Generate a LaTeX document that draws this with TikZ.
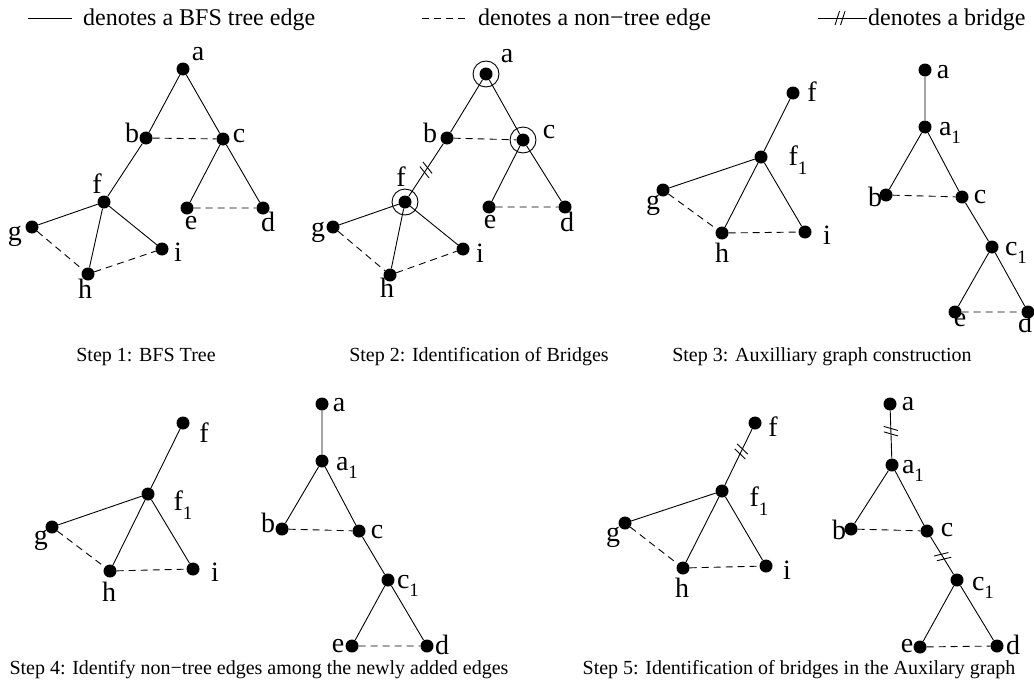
\documentclass[tikz,border=0pt]{standalone}
\usepackage{fontspec}
\setmainfont{Liberation Serif}
\usetikzlibrary{decorations.markings}
\newcommand\sbs[1]{\raisebox{-0.3em}{\fontsize{19}{19}\selectfont #1}}
\begin{document}
\begin{tikzpicture}[x=1pt,y=-1pt,
  dot/.style={circle,fill=black,inner sep=0pt,minimum size=13pt},
  lbl/.style={inner sep=0pt,font=\fontsize{28}{28}\selectfont},
  stepcap/.style={inner sep=0pt,font=\fontsize{20}{20}\selectfont},
  leg/.style={inner sep=0pt,anchor=base west,font=\fontsize{24}{24}\selectfont},
  tree/.style={line width=0.9pt},
  nontree/.style={line width=0.9pt,dash pattern=on 7pt off 5pt},
  ring/.style={circle,draw,line width=0.9pt,minimum size=26pt,inner sep=0pt},
  bridgemark/.style={postaction={decorate},decoration={markings,mark=at position #1 with {\draw[line width=0.9pt] (-5pt,-7pt)--(-0.5pt,7pt); \draw[line width=0.9pt] (0.5pt,-7pt)--(5pt,7pt);}}}
]
\useasboundingbox (0,0) rectangle (1034,688);

% legend
\coordinate (l1a) at (28,18); \coordinate (l1b) at (72,18);
\draw[tree] (l1a) -- (l1b);
\node[leg] (l1t) at (83,25) {denotes a BFS tree edge};
\coordinate (l2a) at (422,18); \coordinate (l2b) at (465,18);
\draw[nontree] (l2a) -- (l2b);
\node[leg] (l2t) at (478,25) {denotes a non−tree edge};
\coordinate (l3a) at (818,18); \coordinate (l3b) at (867,18);
\draw[tree,bridgemark=0.45] (l3a) -- (l3b);
\node[leg] (l3t) at (868,25) {denotes a bridge};

% ---------- Step 1 ----------
\node[dot] (s1a) at (183,69) {};
\node[dot] (s1b) at (146,138) {};
\node[dot] (s1c) at (223,139) {};
\node[dot] (s1f) at (104,202) {};
\node[dot] (s1e) at (187,208) {};
\node[dot] (s1d) at (263,208) {};
\node[dot] (s1g) at (32,227) {};
\node[dot] (s1i) at (162,249) {};
\node[dot] (s1h) at (88,274) {};
\draw[tree] (s1a)--(s1b) (s1a)--(s1c) (s1b)--(s1f) (s1c)--(s1e) (s1c)--(s1d)
  (s1f)--(s1g) (s1f)--(s1h) (s1f)--(s1i);
\draw[nontree] (s1b)--(s1c) (s1e)--(s1d) (s1g)--(s1h) (s1h)--(s1i);
\node[lbl] (s1la) at (198,54) {a};
\node[lbl] (s1lb) at (132,133) {b};
\node[lbl] (s1lc) at (239,136) {c};
\node[lbl] (s1lf) at (97,184) {f};
\node[lbl] (s1le) at (191,223) {e};
\node[lbl] (s1ld) at (268,222) {d};
\node[lbl] (s1lg) at (15,236) {g};
\node[lbl] (s1li) at (178,252) {i};
\node[lbl] (s1lh) at (85,289) {h};
\node[stepcap] (cap1) at (146,357) {Step 1: BFS Tree};

% ---------- Step 2 ----------
\node[dot] (s2a) at (486,74) {};
\node[dot] (s2b) at (447,138) {};
\node[dot] (s2c) at (523,140) {};
\node[dot] (s2f) at (405,202) {};
\node[dot] (s2e) at (489,207) {};
\node[dot] (s2d) at (565,207) {};
\node[dot] (s2g) at (333,227) {};
\node[dot] (s2i) at (463,249) {};
\node[dot] (s2h) at (390,275) {};
\node[ring] (s2ra) at (s2a) {};
\node[ring] (s2rc) at (s2c) {};
\node[ring] (s2rf) at (s2f) {};
\draw[tree] (s2a)--(s2b) (s2a)--(s2c) (s2c)--(s2e) (s2c)--(s2d)
  (s2f)--(s2g) (s2f)--(s2h) (s2f)--(s2i);
\draw[tree,bridgemark=0.5] (s2b)--(s2f);
\draw[nontree] (s2b)--(s2c) (s2e)--(s2d) (s2g)--(s2h) (s2h)--(s2i);
\node[lbl] (s2la) at (507,56) {a};
\node[lbl] (s2lb) at (430,133) {b};
\node[lbl] (s2lc) at (549,132) {c};
\node[lbl] (s2lf) at (401,177) {f};
\node[lbl] (s2le) at (490,222) {e};
\node[lbl] (s2ld) at (567,222) {d};
\node[lbl] (s2lg) at (318,232) {g};
\node[lbl] (s2li) at (480,253) {i};
\node[lbl] (s2lh) at (387,288) {h};
\node[stepcap] (cap2) at (479,357) {Step 2: Identification of Bridges};

% ---------- Step 3 ----------
\node[dot] (s3f) at (793,93) {};
\node[dot] (s3f1) at (761,157) {};
\node[dot] (s3g) at (663,190) {};
\node[dot] (s3h) at (722,233) {};
\node[dot] (s3i) at (805,232) {};
\node[dot] (s3a) at (925,70) {};
\node[dot] (s3a1) at (925,127) {};
\node[dot] (s3b) at (886,195) {};
\node[dot] (s3c) at (962,197) {};
\node[dot] (s3c1) at (992,247) {};
\node[dot] (s3e) at (955,312) {};
\node[dot] (s3d) at (1028,312) {};
\draw[tree] (s3f)--(s3f1) (s3f1)--(s3g) (s3f1)--(s3h) (s3f1)--(s3i)
  (s3a)--(s3a1) (s3a1)--(s3b) (s3a1)--(s3c) (s3c)--(s3c1) (s3c1)--(s3e) (s3c1)--(s3d);
\draw[nontree] (s3g)--(s3h) (s3h)--(s3i) (s3b)--(s3c) (s3e)--(s3d);
\node[lbl] (s3lf) at (812,92) {f};
\node[lbl] (s3lf1) at (798,160) {f\sbs{1}};
\node[lbl] (s3lg) at (653,205) {g};
\node[lbl] (s3lh) at (722,253) {h};
\node[lbl] (s3li) at (827,235) {i};
\node[lbl] (s3la) at (943,72) {a};
\node[lbl] (s3la1) at (950,133) {a\sbs{1}};
\node[lbl] (s3lb) at (875,197) {b};
\node[lbl] (s3lc) at (980,197) {c};
\node[lbl] (s3lc1) at (1016,253) {c\sbs{1}};
\node[lbl] (s3le) at (960,320) {e};
\node[lbl] (s3ld) at (1025,323) {d};
\node[stepcap] (cap3) at (822,357) {Step 3: Auxilliary graph construction};

% ---------- Step 4 ----------
\node[dot] (s4f) at (183,423) {};
\node[dot] (s4f1) at (148,494) {};
\node[dot] (s4g) at (52,527) {};
\node[dot] (s4h) at (110,571) {};
\node[dot] (s4i) at (193,569) {};
\node[dot] (s4a) at (322,404) {};
\node[dot] (s4a1) at (322,461) {};
\node[dot] (s4b) at (282,529) {};
\node[dot] (s4c) at (359,531) {};
\node[dot] (s4c1) at (388,580) {};
\node[dot] (s4e) at (352,646) {};
\node[dot] (s4d) at (427,646) {};
\draw[tree] (s4f)--(s4f1) (s4f1)--(s4g) (s4f1)--(s4h) (s4f1)--(s4i)
  (s4a)--(s4a1) (s4a1)--(s4b) (s4a1)--(s4c) (s4c)--(s4c1) (s4c1)--(s4e) (s4c1)--(s4d);
\draw[nontree] (s4g)--(s4h) (s4h)--(s4i) (s4b)--(s4c) (s4e)--(s4d);
\node[lbl] (s4lf) at (204,433) {f};
\node[lbl] (s4lf1) at (183,505) {f\sbs{1}};
\node[lbl] (s4lg) at (41,540) {g};
\node[lbl] (s4lh) at (109,592) {h};
\node[lbl] (s4li) at (215,572) {i};
\node[lbl] (s4la) at (339,405) {a};
\node[lbl] (s4la1) at (347,468) {a\sbs{1}};
\node[lbl] (s4lb) at (268,523) {b};
\node[lbl] (s4lc) at (377,532) {c};
\node[lbl] (s4lc1) at (408,586) {c\sbs{1}};
\node[lbl] (s4le) at (338,646) {e};
\node[lbl] (s4ld) at (442,645) {d};
\node[stepcap] (cap4) at (259,670) {Step 4: Identify non−tree edges among the newly added edges};

% ---------- Step 5 ----------
\node[dot] (s5f) at (755,423) {};
\node[dot] (s5f1) at (722,491) {};
\node[dot] (s5g) at (625,523) {};
\node[dot] (s5h) at (683,568) {};
\node[dot] (s5i) at (766,566) {};
\node[dot] (s5a) at (890,404) {};
\node[dot] (s5a1) at (892,465) {};
\node[dot] (s5b) at (851,529) {};
\node[dot] (s5c) at (927,531) {};
\node[dot] (s5c1) at (957,580) {};
\node[dot] (s5e) at (920,647) {};
\node[dot] (s5d) at (997,646) {};
\draw[tree] (s5f1)--(s5g) (s5f1)--(s5h) (s5f1)--(s5i)
  (s5a1)--(s5b) (s5a1)--(s5c) (s5c1)--(s5e) (s5c1)--(s5d);
\draw[tree,bridgemark=0.6] (s5f1)--(s5f);
\draw[tree,bridgemark=0.43] (s5a)--(s5a1);
\draw[tree,bridgemark=0.53] (s5c)--(s5c1);
\draw[nontree] (s5g)--(s5h) (s5h)--(s5i) (s5b)--(s5c) (s5e)--(s5d);
\node[lbl] (s5lf) at (773,427) {f};
\node[lbl] (s5lf1) at (759,501) {f\sbs{1}};
\node[lbl] (s5lg) at (613,537) {g};
\node[lbl] (s5lh) at (682,588) {h};
\node[lbl] (s5li) at (787,570) {i};
\node[lbl] (s5la) at (908,404) {a};
\node[lbl] (s5la1) at (913,471) {a\sbs{1}};
\node[lbl] (s5lb) at (839,530) {b};
\node[lbl] (s5lc) at (947,530) {c};
\node[lbl] (s5lc1) at (983,588) {c\sbs{1}};
\node[lbl] (s5le) at (907,646) {e};
\node[lbl] (s5ld) at (1013,645) {d};
\node[stepcap] (cap5) at (799,670) {Step 5: Identification of bridges in the Auxilary graph};
\end{tikzpicture}
\end{document}
